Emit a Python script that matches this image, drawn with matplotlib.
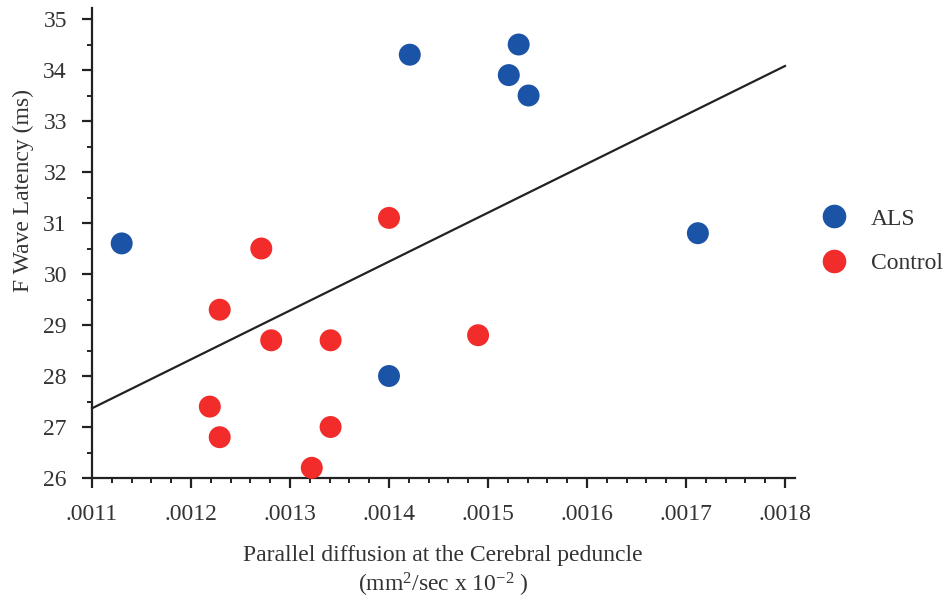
import numpy as np
import matplotlib
matplotlib.use('Agg')
import matplotlib.pyplot as plt
from matplotlib.lines import Line2D
from matplotlib.ticker import MultipleLocator, FixedLocator

plt.rcParams['font.family'] = ['Liberation Serif', 'DejaVu Serif']
plt.rcParams['mathtext.fontset'] = 'custom'
plt.rcParams['mathtext.rm'] = 'Liberation Serif'
plt.rcParams['mathtext.it'] = 'Liberation Serif:italic'

# parallel diffusion (mm2/sec x 10^-2) vs F wave latency (ms)
als_x = [0.001130, 0.001421, 0.001531, 0.001521, 0.001541, 0.001712, 0.001400]
als_y = [30.6, 34.3, 34.5, 33.9, 33.5, 30.8, 28.0]
ctrl_x = [0.001400, 0.001271, 0.001229, 0.001281, 0.001341, 0.001490,
          0.001219, 0.001229, 0.001341, 0.001322]
ctrl_y = [31.1, 30.5, 29.3, 28.7, 28.7, 28.8, 27.4, 26.8, 27.0, 26.2]

x_ticks = [0.0011, 0.0012, 0.0013, 0.0014, 0.0015, 0.0016, 0.0017, 0.0018]
x_ticklabels = ['.0011', '.0012', '.0013', '.0014', '.0015', '.0016', '.0017', '.0018']
y_ticks = [26, 27, 28, 29, 30, 31, 32, 33, 34, 35]

BLUE = '#1b54a6'
RED = '#f22b2b'
INK = '#222222'
TXT = '#333333'
FS = 17

fig = plt.figure(figsize=(9.48, 6.0), dpi=100)
ax = fig.add_axes([92/948, 1 - 478/600, (795 - 92)/948, (478 - 8)/600])

# least-squares fit over all subjects
all_x = np.array(als_x + ctrl_x)
all_y = np.array(als_y + ctrl_y)
slope, icpt = np.polyfit(all_x, all_y, 1)
fx = np.array([x_ticks[0], x_ticks[-1]])
ax.plot(fx, slope * fx + icpt, color=INK, lw=1.6, zorder=2, clip_on=False)

ax.scatter(als_x, als_y, s=250, color=BLUE, edgecolors='none', zorder=3, clip_on=False)
ax.scatter(ctrl_x, ctrl_y, s=250, color=RED, edgecolors='none', zorder=3, clip_on=False)

ax.set_xlim(0.0011, 0.0018 + 10/990000)
ax.set_ylim(26, 35 + 11/51)
ax.xaxis.set_major_locator(FixedLocator(x_ticks))
ax.set_xticklabels(x_ticklabels)
ax.xaxis.set_minor_locator(MultipleLocator(0.00002))
ax.yaxis.set_major_locator(FixedLocator(y_ticks))
ax.yaxis.set_minor_locator(MultipleLocator(0.5))

for side in ['top', 'right']:
    ax.spines[side].set_visible(False)
for side in ['left', 'bottom']:
    ax.spines[side].set_linewidth(1.6)
    ax.spines[side].set_color(INK)

ax.tick_params(which='major', direction='out', length=7, width=1.6, color=INK,
               labelsize=FS, labelcolor=TXT)
ax.tick_params(which='minor', direction='out', length=3.5, width=1.4, color=INK)
ax.tick_params(axis='x', which='major', pad=12)
ax.tick_params(axis='y', which='major', pad=11)

fig.text(23/948, 1 - 191/600, 'F Wave Latency (ms)', rotation=90, fontsize=FS,
         color=TXT, ha='center', va='center')
fig.text(443/948, 1 - 555/600, 'Parallel diffusion at the Cerebral peduncle',
         fontsize=FS, color=TXT, ha='center', va='center')
fig.text(443/948, 1 - 585/600, '(mm$^2$/sec x 10$^{-2}$ )',
         fontsize=FS, color=TXT, ha='center', va='center')

handles = [Line2D([], [], marker='o', ls='none', markersize=16, color=BLUE, label='ALS'),
           Line2D([], [], marker='o', ls='none', markersize=16, color=RED, label='Control')]
fig.legend(handles=handles, loc='center left', bbox_to_anchor=(799/948, 1 - 241/600),
           frameon=False, fontsize=FS, labelcolor=TXT, handletextpad=0.93,
           labelspacing=0.96, handlelength=1.2)

fig.savefig('out.png', dpi=100, facecolor='white')
